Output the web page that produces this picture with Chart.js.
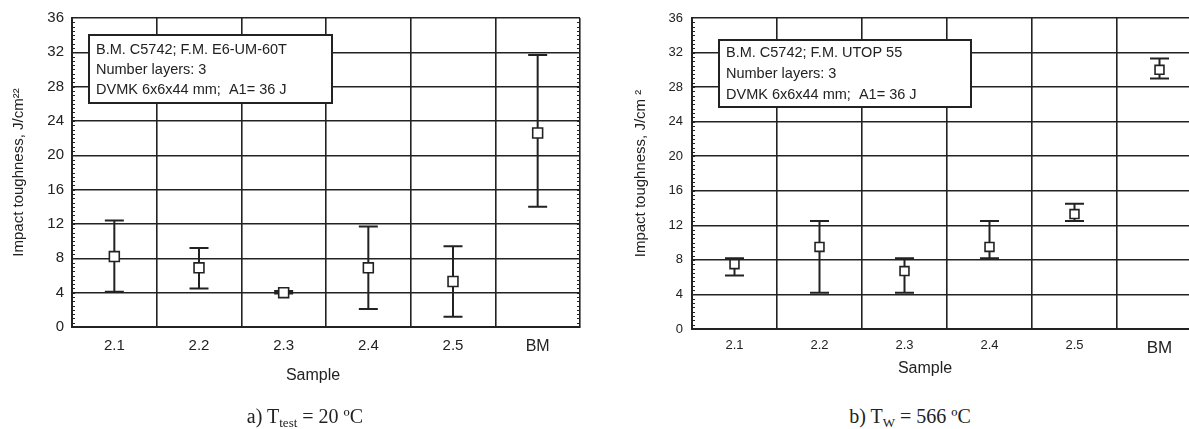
<!DOCTYPE html>
<html>
<head>
<meta charset="utf-8">
<script src="https://cdn.jsdelivr.net/npm/chart.js@4/dist/chart.umd.min.js"></script>
<style>
  html, body { margin: 0; padding: 0; background: #fff; }
  body { width: 1189px; height: 429px; overflow: hidden; position: relative; font-family: "Liberation Sans", Arial, sans-serif; color: #222; }
  .box { position: absolute; top: 0; }
  .xt { position: absolute; font-size: 16px; line-height: 20px; text-align: center; width: 200px; }
  .cap { position: absolute; font-family: "Liberation Serif", "Times New Roman", serif; font-size: 20px; line-height: 22px; text-align: center; width: 300px; }
  .cap sub { font-size: 13px; vertical-align: -4px; line-height: 0; }
</style>
</head>
<body>
<div class="box" style="left:0"><canvas id="chartA" width="600" height="390"></canvas></div>
<div class="box" style="left:600px"><canvas id="chartB" width="610" height="390"></canvas></div>
<div class="xt" style="left:213px;top:365px">Sample</div>
<div class="xt" style="left:825px;top:358px">Sample</div>
<div class="cap" style="left:155px;top:405px">a) T<sub>test</sub> = 20 ºC</div>
<div class="cap" style="left:760px;top:405px">b) T<sub>W</sub> = 566 ºC</div>
<script>
// samples on the x axis
var samples = ['2.1', '2.2', '2.3', '2.4', '2.5', 'BM'];

// a) T test = 20 C
var meanA = [8.2, 6.9, 4.0, 6.9, 5.3, 22.6];
var lowA = [4.1, 4.5, 3.9, 2.1, 1.2, 14.0];
var highA = [12.4, 9.2, 4.2, 11.7, 9.4, 31.7];

// b) T W = 566 C
var meanB = [7.5, 9.5, 6.7, 9.5, 13.3, 30.0];
var lowB = [6.2, 4.2, 4.2, 8.2, 12.5, 29.0];
var highB = [8.2, 12.5, 8.2, 12.5, 14.5, 31.3];

var yMin = 0, yMax = 36, yStep = 4;

var noteA = ['B.M. C5742; F.M. E6-UM-60T', 'Number layers: 3', 'DVMK 6x6x44 mm;  A1= 36 J'];
var noteB = ['B.M. C5742; F.M. UTOP 55', 'Number layers: 3', 'DVMK 6x6x44 mm;  A1= 36 J'];

var INK = '#222';

// whiskers drawn under the square markers
var errorBars = {
    id: 'errorBars',
    beforeDatasetsDraw: function (chart, args, opts) {
        var o = opts || chart.options.plugins.errorBars;
        var ctx = chart.ctx, xs = chart.scales.x, ys = chart.scales.y;
        ctx.save();
        ctx.strokeStyle = INK;
        ctx.lineWidth = 2;
        for (var i = 0; i < o.low.length; i++) {
            var x = xs.getPixelForValue(i);
            var yl = ys.getPixelForValue(o.low[i]);
            var yh = ys.getPixelForValue(o.high[i]);
            ctx.beginPath();
            ctx.moveTo(x, yl); ctx.lineTo(x, yh);
            ctx.moveTo(x - o.cap, yl); ctx.lineTo(x + o.cap, yl);
            ctx.moveTo(x - o.cap, yh); ctx.lineTo(x + o.cap, yh);
            ctx.stroke();
        }
        ctx.restore();
    }
};

// small inside ticks along the frame
var minorTicks = {
    id: 'minorTicks',
    afterDatasetsDraw: function (chart, args, opts) {
        var o = opts || chart.options.plugins.minorTicks;
        var ctx = chart.ctx, ys = chart.scales.y, a = chart.chartArea;
        ctx.save();
        ctx.strokeStyle = INK;
        ctx.lineWidth = 1;
        for (var v = yMin + 0.5; v < yMax; v += 0.5) {
            var y = Math.round(ys.getPixelForValue(v)) + 0.5;
            ctx.beginPath();
            ctx.moveTo(a.left, y); ctx.lineTo(a.left + 3, y);
            if (o.right) { ctx.moveTo(a.right, y); ctx.lineTo(a.right - 3, y); }
            ctx.stroke();
        }
        ctx.restore();
    }
};

// legend box with the test conditions
var noteBox = {
    id: 'noteBox',
    afterDraw: function (chart, args, opts) {
        var o = opts || chart.options.plugins.noteBox;
        var ctx = chart.ctx, a = chart.chartArea;
        var x = a.left + o.dx, y = a.top + o.dy;
        ctx.save();
        ctx.fillStyle = '#fff';
        ctx.fillRect(x, y, o.w, o.h);
        ctx.strokeStyle = INK;
        ctx.lineWidth = 2;
        ctx.strokeRect(x, y, o.w, o.h);
        ctx.fillStyle = INK;
        ctx.font = '14.5px "Liberation Sans", Arial, sans-serif';
        ctx.textBaseline = 'middle';
        o.lines.forEach(function (t, i) {
            ctx.fillText(t, x + 7, y + o.first + i * o.step);
        });
        ctx.restore();
    }
};

function makeChart(id, mean, low, high, cfg) {
    var ctx = document.getElementById(id).getContext('2d');
    return new Chart(ctx, {
        type: 'line',
        data: {
            labels: samples,
            datasets: [{
                data: mean,
                showLine: false,
                pointStyle: 'rect',
                pointRadius: cfg.marker,
                pointBackgroundColor: '#fff',
                pointBorderColor: INK,
                pointBorderWidth: 1.6
            }]
        },
        options: {
            responsive: false,
            animation: false,
            layout: { padding: { left: 0, right: cfg.padRight, top: 18, bottom: 0 } },
            plugins: {
                legend: { display: false },
                tooltip: { enabled: false },
                errorBars: { low: low, high: high, cap: 9.5 },
                minorTicks: { right: cfg.rightTicks },
                noteBox: cfg.note
            },
            scales: {
                x: {
                    type: 'category',
                    offset: true,
                    afterFit: function (s) { s.height = cfg.xHeight; },
                    grid: { offset: true, color: INK, lineWidth: 1.6, drawTicks: false },
                    border: { display: true, color: INK, width: 2 },
                    ticks: {
                        color: INK,
                        padding: cfg.xPad,
                        font: function (c) {
                            return { family: '"Liberation Sans", Arial, sans-serif', size: c.index === 5 ? cfg.bmSize : cfg.xSize };
                        }
                    }
                },
                y: {
                    min: yMin,
                    max: yMax,
                    afterFit: function (s) { s.width = cfg.yWidth; },
                    grid: { color: INK, lineWidth: 1.6, drawTicks: false },
                    border: { display: true, color: INK, width: 2 },
                    ticks: {
                        stepSize: yStep,
                        color: INK,
                        padding: cfg.yPad,
                        font: { family: '"Liberation Sans", Arial, sans-serif', size: cfg.ySize }
                    },
                    title: {
                        display: true,
                        text: cfg.yTitle,
                        color: INK,
                        padding: { top: cfg.titlePad, bottom: 0 },
                        font: { family: '"Liberation Sans", Arial, sans-serif', size: 15 }
                    }
                }
            }
        },
        plugins: [errorBars, minorTicks, noteBox]
    });
}

makeChart('chartA', meanA, lowA, highA, {
    marker: 7, padRight: 20, xHeight: 63, xPad: 10, xSize: 15, bmSize: 16,
    yWidth: 72, yPad: 8, ySize: 15, yTitle: 'Impact toughness, J/cm²²', titlePad: 10,
    rightTicks: true,
    note: { lines: noteA, dx: 17, dy: 17, w: 243, h: 68, first: 15, step: 20 }
});

makeChart('chartB', meanB, lowB, highB, {
    marker: 6.3, padRight: 8, xHeight: 61, xPad: 9, xSize: 13, bmSize: 17,
    yWidth: 92, yPad: 9, ySize: 13, yTitle: 'Impact toughness, J/cm ²', titlePad: 32,
    rightTicks: false,
    note: { lines: noteB, dx: 27, dy: 22, w: 252, h: 67, first: 13, step: 21 }
});
</script>
</body>
</html>
